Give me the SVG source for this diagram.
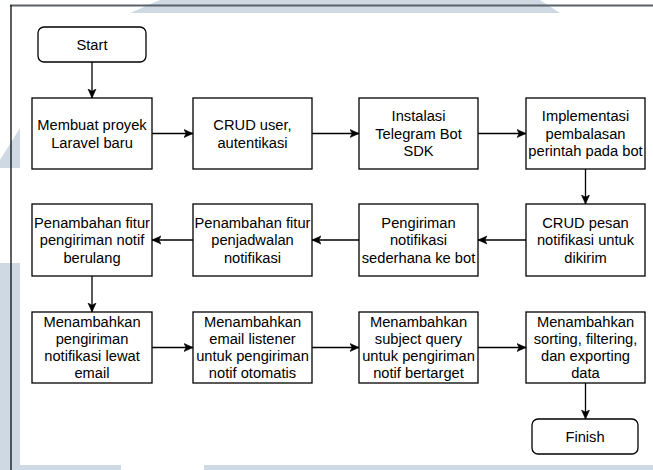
<svg xmlns="http://www.w3.org/2000/svg" width="653" height="470" viewBox="0 0 653 470">
  <defs>
    <style>
      .wm { fill: #cfd9e3; }
      .box { fill: #ffffff; stroke: #000000; stroke-width: 1.3; }
      .term { fill: #ffffff; stroke: #000000; stroke-width: 1.3; }
      .lbl { font-family: "Liberation Sans", Arial, Helvetica, sans-serif; font-size: 14.7px; fill: #000000; text-anchor: middle; }
      .edge { fill: none; stroke: #000000; stroke-width: 1.3; marker-end: url(#arrow); }
    </style>
    <marker id="arrow" markerUnits="userSpaceOnUse" markerWidth="10" markerHeight="10" viewBox="0 0 10 10" refX="9" refY="5" orient="auto">
      <path d="M0,1 L9,5 L0,9 L2.2,5 Z" fill="#000000" stroke="#000000" stroke-width="0.6"/>
    </marker>
  </defs>

  <rect width="653" height="470" fill="#ffffff"/>

  <!-- background watermark bands -->
  <g id="watermark">
    <polygon class="wm" points="160,0 540,0 560,13 130,13"/>
    <polygon class="wm" points="20,128 20,168 0,168 0,160"/>
    <rect class="wm" x="0" y="263" width="20" height="207"/>
    <rect class="wm" x="20" y="465" width="101" height="5"/>
    <rect class="wm" x="204" y="465" width="449" height="5"/>
  </g>

  <!-- page frame -->
  <g id="frame">
    <line x1="10" y1="5.5" x2="653" y2="5.5" stroke="#5a6068" stroke-width="2"/>
    <line x1="11" y1="5" x2="11" y2="470" stroke="#1a1a1a" stroke-width="1.4"/>
  </g>

  <!-- connectors -->
  <g id="connectors">
    <line class="edge" x1="92" y1="62" x2="92" y2="98"/>
    <line class="edge" x1="152" y1="133.5" x2="193" y2="133.5"/>
    <line class="edge" x1="312" y1="133.5" x2="359" y2="133.5"/>
    <line class="edge" x1="478" y1="133.5" x2="526" y2="133.5"/>
    <line class="edge" x1="585.5" y1="169" x2="585.5" y2="204"/>
    <line class="edge" x1="526" y1="240" x2="478" y2="240"/>
    <line class="edge" x1="359" y1="240" x2="312" y2="240"/>
    <line class="edge" x1="193" y1="240" x2="152" y2="240"/>
    <line class="edge" x1="92" y1="276" x2="92" y2="312"/>
    <line class="edge" x1="152" y1="347.5" x2="193" y2="347.5"/>
    <line class="edge" x1="312" y1="347.5" x2="359" y2="347.5"/>
    <line class="edge" x1="478" y1="347.5" x2="526" y2="347.5"/>
    <line class="edge" x1="585.5" y1="383" x2="585.5" y2="419"/>
  </g>

  <!-- terminals -->
  <g id="start">
    <rect class="term" x="38" y="27" width="108" height="35" rx="6" ry="6"/>
    <text class="lbl" x="92" y="50">Start</text>
  </g>
  <g id="finish">
    <rect class="term" x="532" y="419" width="106" height="35" rx="6" ry="6"/>
    <text class="lbl" x="585" y="442">Finish</text>
  </g>

  <!-- row 1 -->
  <g id="n-laravel">
    <rect class="box" x="32" y="98" width="120" height="71"/>
    <text class="lbl" x="92" y="129.5">Membuat proyek</text>
    <text class="lbl" x="92" y="147.5">Laravel baru</text>
  </g>
  <g id="n-crud-user">
    <rect class="box" x="193" y="98" width="119" height="71"/>
    <text class="lbl" x="252.5" y="129.5">CRUD user,</text>
    <text class="lbl" x="252.5" y="147.5">autentikasi</text>
  </g>
  <g id="n-telegram-sdk">
    <rect class="box" x="359" y="98" width="119" height="71"/>
    <text class="lbl" x="418.5" y="121">Instalasi</text>
    <text class="lbl" x="418.5" y="138.5">Telegram Bot</text>
    <text class="lbl" x="418.5" y="156">SDK</text>
  </g>
  <g id="n-bot-reply">
    <rect class="box" x="526" y="98" width="119" height="71"/>
    <text class="lbl" x="585.5" y="121">Implementasi</text>
    <text class="lbl" x="585.5" y="138.5">pembalasan</text>
    <text class="lbl" x="585.5" y="156">perintah pada bot</text>
  </g>

  <!-- row 2 -->
  <g id="n-crud-pesan">
    <rect class="box" x="526" y="204" width="119" height="72"/>
    <text class="lbl" x="585.5" y="227.5">CRUD pesan</text>
    <text class="lbl" x="585.5" y="245">notifikasi untuk</text>
    <text class="lbl" x="585.5" y="262.5">dikirim</text>
  </g>
  <g id="n-kirim-sederhana">
    <rect class="box" x="359" y="204" width="119" height="72"/>
    <text class="lbl" x="418.5" y="227.5">Pengiriman</text>
    <text class="lbl" x="418.5" y="245">notifikasi</text>
    <text class="lbl" x="418.5" y="262.5">sederhana ke bot</text>
  </g>
  <g id="n-penjadwalan">
    <rect class="box" x="193" y="204" width="119" height="72"/>
    <text class="lbl" x="252.5" y="227.5">Penambahan fitur</text>
    <text class="lbl" x="252.5" y="245">penjadwalan</text>
    <text class="lbl" x="252.5" y="262.5">notifikasi</text>
  </g>
  <g id="n-berulang">
    <rect class="box" x="32" y="204" width="120" height="72"/>
    <text class="lbl" x="92" y="227.5">Penambahan fitur</text>
    <text class="lbl" x="92" y="245">pengiriman notif</text>
    <text class="lbl" x="92" y="262.5">berulang</text>
  </g>

  <!-- row 3 -->
  <g id="n-email">
    <rect class="box" x="32" y="312" width="120" height="71"/>
    <text class="lbl" x="92" y="327">Menambahkan</text>
    <text class="lbl" x="92" y="344">pengiriman</text>
    <text class="lbl" x="92" y="361">notifikasi lewat</text>
    <text class="lbl" x="92" y="378">email</text>
  </g>
  <g id="n-listener">
    <rect class="box" x="193" y="312" width="119" height="71"/>
    <text class="lbl" x="252.5" y="327">Menambahkan</text>
    <text class="lbl" x="252.5" y="344">email listener</text>
    <text class="lbl" x="252.5" y="361">untuk pengiriman</text>
    <text class="lbl" x="252.5" y="378">notif otomatis</text>
  </g>
  <g id="n-subject-query">
    <rect class="box" x="359" y="312" width="119" height="71"/>
    <text class="lbl" x="418.5" y="327">Menambahkan</text>
    <text class="lbl" x="418.5" y="344">subject query</text>
    <text class="lbl" x="418.5" y="361">untuk pengiriman</text>
    <text class="lbl" x="418.5" y="378">notif bertarget</text>
  </g>
  <g id="n-sorting">
    <rect class="box" x="526" y="312" width="119" height="71"/>
    <text class="lbl" x="585.5" y="327">Menambahkan</text>
    <text class="lbl" x="585.5" y="344">sorting, filtering,</text>
    <text class="lbl" x="585.5" y="361">dan exporting</text>
    <text class="lbl" x="585.5" y="378">data</text>
  </g>
</svg>
